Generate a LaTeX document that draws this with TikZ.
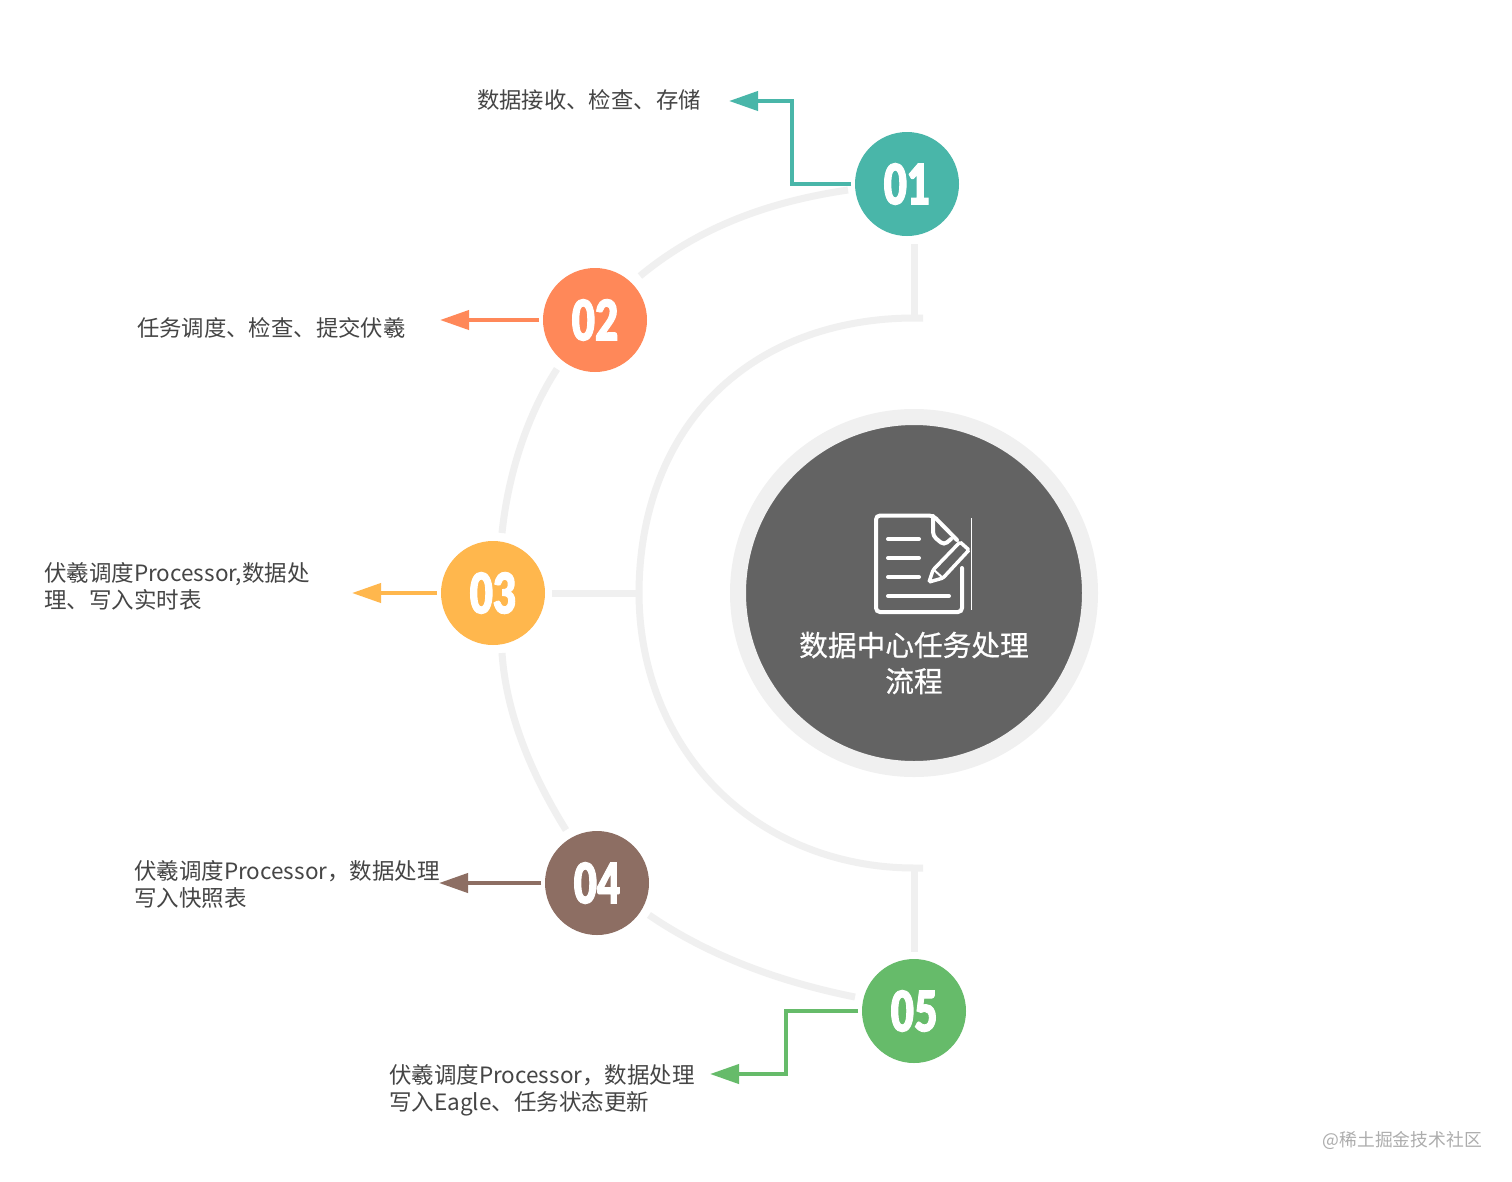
\documentclass[tikz,border=0pt]{standalone}
\usepackage{fontspec}
\usetikzlibrary{arrows.meta}
\newfontfamily\cjk{Noto Sans CJK SC}
\newfontfamily\cjkm[FakeBold=0.6]{Noto Sans CJK SC}
\newfontfamily\numfont[FakeStretch=0.72,FakeBold=1.6]{Lato Black}
\definecolor{cA}{HTML}{49B6A9}
\definecolor{cB}{HTML}{FF8859}
\definecolor{cC}{HTML}{FFB74D}
\definecolor{cD}{HTML}{8D6E63}
\definecolor{cE}{HTML}{66BB6A}
\definecolor{trk}{HTML}{F0F0F0}
\definecolor{txt}{HTML}{454545}
\tikzset{
  x=1pt,y=-1pt,
  numdot/.style={circle,minimum size=104pt,inner sep=0pt,outer sep=4pt,text=white,font=\numfont\fontsize{56}{56}\selectfont},
  track/.style={trk,line width=7pt,line join=miter},
  conn/.style={line width=4pt,-{Triangle[length=29pt,width=19pt]}},
  lab/.style={anchor=west,align=left,inner sep=0pt,text=txt,font=\cjk\fontsize{22.5}{27.5}\selectfont},
  labcjk/.style={lab,font=\cjk\fontsize{22.35}{27.5}\selectfont},
  icon/.style={white,line width=4pt,rounded corners=4pt,line cap=round}
}
\begin{document}
\begin{tikzpicture}
\useasboundingbox (0,0) rectangle (1512,1181);
\fill[white] (0,0) rectangle (1512,1181);
% outer arcs
\draw[track] (848,190) .. controls (780,200) and (705,222) .. (640,276);
\draw[track] (557,369) .. controls (527,415) and (508,475) .. (502,533);
\draw[track] (502,653) .. controls (506,712) and (530,772) .. (566,830);
\draw[track] (649,915) .. controls (712,958) and (785,983) .. (855,997);
% inner arc
\coordinate (i1) at (923,318);
\coordinate (i2) at (923,868);
\draw[track] (i1) -- (914,318) plot[domain=270:90,samples=121] ({914+(275+(\x>180?7:3)*sin(2*\x)*sin(2*\x))*cos(\x)},{593+(275+(\x>180?7:3)*sin(2*\x)*sin(2*\x))*sin(\x)}) -- (i2);
% hub
\node[circle,minimum size=352pt,inner sep=0pt,fill=black!61,draw=trk,line width=16pt] (hub) at (914,593) {};
\node[align=center,inner sep=0pt,text=white,font=\cjkm\fontsize{28.7}{36}\selectfont] (hubtext) at (914,663) {数据中心任务处理\\流程};
% number circles
\node[numdot,fill=cA] (c1) at (907,184) {01};
\node[numdot,fill=cB] (c2) at (595,320) {02};
\node[numdot,fill=cC] (c3) at (493,593) {03};
\node[numdot,fill=cD] (c4) at (597,883) {04};
\node[numdot,fill=cE] (c5) at (914,1011) {05};
% spokes
\coordinate (s1) at (914,318);
\coordinate (s3) at (639,593);
\coordinate (s5) at (914,868);
\draw[track] (914,244) -- (s1);
\draw[track] (s5) -- (914,952);
\draw[track] (552,593) -- (s3);
% connectors
\coordinate (t1) at (729,101);
\coordinate (b1) at (792,101);
\coordinate (t2) at (440,320);
\coordinate (t3) at (352,593);
\coordinate (t4) at (439,883);
\coordinate (t5) at (710,1074);
\coordinate (b5) at (786,1074);
\draw[conn,cA] (c1.west) -| (b1) -- (t1);
\draw[conn,cB] (c2.west) -- (t2);
\draw[conn,cC] (c3.west) -- (t3);
\draw[conn,cD] (c4.west) -- (t4);
\draw[conn,cE] (c5.west) -| (b5) -- (t5);
% labels
\node[labcjk] (l1) at (477,100) {数据接收、检查、存储};
\node[labcjk] (l2) at (137,328) {任务调度、检查、提交伏羲};
\node[lab] (l3) at (44,586.5) {伏羲调度Processor,数据处\\理、写入实时表};
\node[lab] (l4) at (134,884.5) {伏羲调度Processor，数据处理\\写入快照表};
\node[lab] (l5) at (389,1090.5) {伏羲调度Processor，数据处理\\写入Eagle、任务状态更新};
\node[anchor=east,inner sep=0pt,text=black!32,font=\cjk\fontsize{17.8}{20}\selectfont] (wm) at (1482,1140) {@稀土掘金技术社区};
% icon
\draw[icon] (957,540) -- (933,515.5) -- (876,515.5) -- (876,612) -- (962,612) -- (962,568);
\draw[icon] (933,516) -- (933,536) -- (944,545) -- (951,539);
\draw[icon] (888,539) -- (919,539);
\draw[icon] (888,558) -- (919,558);
\draw[icon] (888,577) -- (919,577);
\draw[icon] (888,596) -- (949,596);
\draw[icon,rounded corners=1.5pt,line width=3.5pt] (929,582) -- (933,570) -- (960,542) -- (969,550) -- (943,578) -- cycle;
\draw[icon,line width=2pt] (934,570) -- (943,578);
\draw[white,line width=0.7pt] (971,518) -- (971,610);
\end{tikzpicture}
\end{document}
